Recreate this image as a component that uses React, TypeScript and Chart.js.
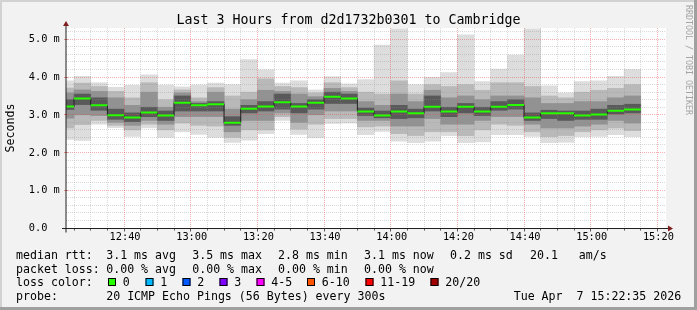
import React, { useEffect, useRef } from "react";
import { Chart, registerables } from "chart.js";

Chart.register(...registerables);

// ---------- data ----------
const rangeStart = "12:22:35";
const rangeEnd = "15:22:35";
const stepMinutes = 5;

const barEnd = [
  "12:25", "12:30", "12:35", "12:40", "12:45", "12:50", "12:55",
  "13:00", "13:05", "13:10", "13:15", "13:20", "13:25", "13:30", "13:35", "13:40", "13:45", "13:50", "13:55",
  "14:00", "14:05", "14:10", "14:15", "14:20", "14:25", "14:30", "14:35", "14:40", "14:45", "14:50", "14:55",
  "15:00", "15:05", "15:10", "15:15",
];

const pingMax = [3.90, 4.02, 3.85, 3.73, 3.78, 4.06, 3.79, 3.74, 3.79, 3.84, 3.80, 4.46, 4.19, 3.84, 3.90, 3.66, 4.01, 3.82, 3.93, 4.85, 5.28, 3.80, 3.99, 4.12, 5.12, 3.88, 4.21, 4.58, 5.28, 3.77, 3.58, 3.88, 3.90, 4.02, 4.20];
const band2Hi = [3.71, 3.84, 3.75, 3.62, 3.45, 3.85, 3.40, 3.66, 3.45, 3.72, 3.50, 3.60, 3.95, 3.75, 3.72, 3.58, 3.85, 3.72, 3.60, 3.55, 3.90, 3.55, 3.80, 3.75, 3.80, 3.65, 3.85, 3.85, 3.75, 3.50, 3.45, 3.60, 3.65, 3.70, 3.80];
const band3Hi = [3.58, 3.66, 3.62, 3.45, 3.25, 3.60, 3.20, 3.58, 3.35, 3.60, 3.15, 3.40, 3.65, 3.62, 3.55, 3.48, 3.70, 3.62, 3.35, 3.25, 3.55, 3.35, 3.65, 3.45, 3.50, 3.40, 3.50, 3.50, 3.45, 3.30, 3.30, 3.35, 3.35, 3.45, 3.50];
const coreHi = [3.40, 3.55, 3.45, 3.15, 3.05, 3.20, 3.10, 3.50, 3.30, 3.35, 2.95, 3.25, 3.35, 3.55, 3.30, 3.40, 3.60, 3.55, 3.18, 3.10, 3.25, 3.15, 3.50, 3.20, 3.30, 3.20, 3.35, 3.40, 3.05, 3.12, 3.10, 3.10, 3.15, 3.25, 3.28];
const medianRtt = [3.22, 3.43, 3.25, 2.99, 2.93, 3.06, 2.98, 3.32, 3.25, 3.28, 2.79, 3.16, 3.22, 3.33, 3.22, 3.32, 3.48, 3.43, 3.09, 2.98, 3.09, 3.04, 3.21, 3.09, 3.21, 3.09, 3.21, 3.26, 2.93, 3.04, 3.04, 2.98, 3.01, 3.11, 3.14];
const coreLo = [3.14, 3.27, 3.12, 2.88, 2.82, 2.95, 2.85, 3.10, 3.10, 3.10, 2.72, 3.05, 3.10, 3.15, 3.05, 3.15, 3.30, 3.30, 2.98, 2.92, 2.90, 2.92, 3.10, 2.95, 3.05, 2.98, 3.12, 3.15, 2.85, 2.90, 2.85, 2.88, 2.88, 3.02, 3.05];
const band3Lo = [2.91, 3.00, 2.98, 2.80, 2.72, 2.85, 2.75, 2.95, 2.95, 2.95, 2.55, 2.85, 2.85, 3.05, 2.80, 3.00, 3.10, 3.10, 2.85, 2.85, 2.70, 2.70, 2.90, 2.75, 2.75, 2.85, 2.95, 2.95, 2.75, 2.65, 2.65, 2.70, 2.75, 2.85, 2.78];
const band2Lo = [2.65, 2.74, 2.85, 2.72, 2.60, 2.75, 2.60, 2.78, 2.72, 2.70, 2.40, 2.60, 2.60, 2.95, 2.62, 2.75, 2.90, 2.90, 2.68, 2.70, 2.50, 2.45, 2.55, 2.55, 2.45, 2.60, 2.75, 2.72, 2.55, 2.42, 2.45, 2.55, 2.60, 2.65, 2.58];
const pingMin = [2.35, 2.32, 2.75, 2.66, 2.43, 2.65, 2.40, 2.55, 2.48, 2.40, 2.27, 2.33, 2.50, 2.85, 2.48, 2.39, 2.77, 2.78, 2.47, 2.56, 2.30, 2.26, 2.30, 2.45, 2.26, 2.28, 2.47, 2.47, 2.43, 2.26, 2.27, 2.42, 2.43, 2.47, 2.42];

const xTickLabels = ["12:40", "13:00", "13:20", "13:40", "14:00", "14:20", "14:40", "15:00", "15:20"];
const yTicks = [0, 1, 2, 3, 4, 5];
const yTickLabels = ["0.0  ", "1.0 m", "2.0 m", "3.0 m", "4.0 m", "5.0 m"];
const yMax = 5.3;

const titleText = "Last 3 Hours from d2d1732b0301 to Cambridge";
const yAxisTitle = "Seconds";
const watermarkText = "RRDTOOL / TOBI OETIKER";
const medianHead = "median rtt:";
const medianStats = ["3.1 ms avg", "3.5 ms max", "2.8 ms min", "3.1 ms now", "0.2 ms sd"];
const jitterValue = "20.1";
const jitterUnit = "am/s";
const lossHead = "packet loss:";
const lossStats = ["0.00 % avg", "0.00 % max", "0.00 % min", "0.00 % now"];
const lossColorHead = "loss color:";
const lossLabels = ["0", "1", "2", "3", "4-5", "6-10", "11-19", "20/20"];
const lossColors = ["#26ff00", "#00b8ff", "#0059ff", "#7e00ff", "#ff00ff", "#ff5500", "#ff0000", "#a10000"];
const probeHead = "probe:";
const probeText = "20 ICMP Echo Pings (56 Bytes) every 300s";
const timestampText = "Tue Apr  7 15:22:35 2026";

// ---------- layout / style ----------
const W = 697;
const H = 310;
const MONO = '"DejaVu Sans Mono", monospace';
const statCols = [106.2, 192.2, 278, 364, 450];
const lossBoxX = [108, 145.5, 182.5, 219.5, 256.5, 307, 365.5, 430.5];
const rowBase = [258.5, 272.5, 286.3, 300.2];

const toMin = (s: string) => {
  const p = s.split(":").map(Number);
  return p[0] * 60 + p[1] + (p[2] || 0) / 60;
};

function crisp(v: number) {
  return Math.floor(v) + 0.5;
}

function drawGrid(chart: any) {
  const { ctx, chartArea: a, scales } = chart;
  const xs = scales.x;
  const ys = scales.y;
  const t0 = toMin(rangeStart);
  const t1 = toMin(rangeEnd);
  const minor = "rgba(143,143,143,0.34)";
  const major = "rgba(222,79,79,0.45)";
  ctx.save();
  ctx.lineWidth = 1;
  ctx.setLineDash([1, 1]);
  const drawSet = (isMajor: boolean) => {
    ctx.strokeStyle = isMajor ? major : minor;
    ctx.beginPath();
    for (let k = 1; k / 5 <= yMax + 1e-9; k++) {
      if ((k % 5 === 0) !== isMajor) continue;
      const y = crisp(ys.getPixelForValue(k / 5));
      ctx.moveTo(a.left, y);
      ctx.lineTo(a.right, y);
    }
    for (let m = Math.ceil(t0 / stepMinutes) * stepMinutes; m < t1; m += stepMinutes) {
      if ((m % 20 === 0) !== isMajor) continue;
      const x = crisp(xs.getPixelForValue(m));
      ctx.moveTo(x, a.top);
      ctx.lineTo(x, a.bottom);
    }
    ctx.stroke();
  };
  drawSet(false);
  drawSet(true);
  ctx.restore();
}

const smokePlugin = {
  id: "smokeping",
  beforeDraw(chart: any) {
    const { ctx, chartArea: a } = chart;
    ctx.save();
    ctx.fillStyle = "#f2f2f2";
    ctx.fillRect(0, 0, W, H);
    ctx.fillStyle = "#d2d2d2";
    ctx.fillRect(0, 0, W, 2);
    ctx.fillRect(0, 0, 2, H);
    ctx.fillStyle = "#a0a0a0";
    ctx.fillRect(0, H - 3, W, 3);
    ctx.fillRect(W - 3, 0, 3, H);
    ctx.fillStyle = "#ffffff";
    ctx.fillRect(a.left, a.top, a.right - a.left, a.bottom - a.top);
    ctx.restore();
  },
  beforeDatasetsDraw(chart: any) {
    chart.$gridDone = false;
  },
  beforeDatasetDraw(chart: any, args: any) {
    if (!chart.$gridDone && args.meta.type === "line") {
      drawGrid(chart);
      chart.$gridDone = true;
    }
  },
  afterDraw(chart: any) {
    const { ctx, chartArea: a, scales } = chart;
    const xs = scales.x;
    const ys = scales.y;
    const t0 = toMin(rangeStart);
    const t1 = toMin(rangeEnd);
    const y0 = crisp(ys.getPixelForValue(0));
    const x0 = a.left;
    ctx.save();

    // ticks on x axis
    ctx.lineWidth = 1;
    ctx.strokeStyle = "#555";
    ctx.beginPath();
    for (let m = Math.ceil(t0 / stepMinutes) * stepMinutes; m < t1; m += stepMinutes) {
      const x = crisp(xs.getPixelForValue(m));
      ctx.moveTo(x, y0);
      ctx.lineTo(x, y0 + (m % 20 === 0 ? 3 : 2));
    }
    ctx.stroke();
    // ticks on y axis
    ctx.strokeStyle = "rgba(222,79,79,0.6)";
    ctx.beginPath();
    yTicks.forEach((v) => {
      if (v === 0) return;
      const y = crisp(ys.getPixelForValue(v));
      ctx.moveTo(x0 - 2, y);
      ctx.lineTo(x0 + 2, y);
    });
    ctx.stroke();

    // axes
    ctx.strokeStyle = "#1f1f1f";
    ctx.beginPath();
    ctx.moveTo(x0 - 4, y0);
    ctx.lineTo(a.right + 4, y0);
    ctx.stroke();
    ctx.beginPath();
    ctx.moveTo(x0, y0 + 4);
    ctx.lineTo(x0, a.top - 4);
    ctx.stroke();

    // arrows
    ctx.fillStyle = "#801f1f";
    ctx.beginPath();
    ctx.moveTo(a.right + 2, y0 - 3);
    ctx.lineTo(a.right + 2, y0 + 3);
    ctx.lineTo(a.right + 7, y0);
    ctx.closePath();
    ctx.fill();
    ctx.beginPath();
    ctx.moveTo(x0 - 3, a.top - 2);
    ctx.lineTo(x0 + 3, a.top - 2);
    ctx.lineTo(x0, a.top - 7);
    ctx.closePath();
    ctx.fill();

    // axis labels
    ctx.fillStyle = "#000";
    ctx.font = `10.3px ${MONO}`;
    ctx.textBaseline = "middle";
    ctx.textAlign = "right";
    yTicks.forEach((v, i) => {
      ctx.fillText(yTickLabels[i], 59.8, ys.getPixelForValue(v) + 0.3);
    });
    ctx.textAlign = "center";
    xTickLabels.forEach((lab) => {
      ctx.fillText(lab, xs.getPixelForValue(toMin(lab)) + 1, 237.8);
    });

    // title
    ctx.font = `13.3px ${MONO}`;
    ctx.textBaseline = "alphabetic";
    ctx.textAlign = "center";
    ctx.fillText(titleText, W / 2, 24.3);

    // y axis title
    ctx.save();
    ctx.font = `11.6px ${MONO}`;
    ctx.translate(10.5, (a.top + a.bottom) / 2);
    ctx.rotate(-Math.PI / 2);
    ctx.textBaseline = "middle";
    ctx.fillText(yAxisTitle, 0, 0);
    ctx.restore();

    // watermark
    ctx.save();
    ctx.font = `8.3px ${MONO}`;
    ctx.fillStyle = "#a4a4a4";
    ctx.translate(688.2, 5);
    ctx.rotate(Math.PI / 2);
    ctx.textBaseline = "middle";
    ctx.textAlign = "left";
    ctx.fillText(watermarkText, 0, 0);
    ctx.restore();

    // legend
    ctx.font = `11.6px ${MONO}`;
    ctx.textAlign = "left";
    ctx.textBaseline = "alphabetic";
    ctx.fillStyle = "#000";
    ctx.fillText(medianHead, 16, rowBase[0]);
    medianStats.forEach((s, i) => ctx.fillText(s, statCols[i], rowBase[0]));
    ctx.fillText(jitterValue, 530, rowBase[0]);
    ctx.fillText(jitterUnit, 578.7, rowBase[0]);
    ctx.fillText(lossHead, 16, rowBase[1]);
    lossStats.forEach((s, i) => ctx.fillText(s, statCols[i], rowBase[1]));
    ctx.fillText(lossColorHead, 16, rowBase[2]);
    lossLabels.forEach((lab, i) => {
      const bx = lossBoxX[i];
      ctx.fillStyle = lossColors[i];
      ctx.fillRect(bx, 278, 8, 8);
      ctx.strokeStyle = "#000";
      ctx.lineWidth = 1;
      ctx.strokeRect(bx + 0.5, 278.5, 7, 7);
      ctx.fillStyle = "#000";
      ctx.fillText(lab, bx + 14.8, rowBase[2]);
    });
    ctx.fillText(probeHead, 16, rowBase[3]);
    ctx.fillText(probeText, statCols[0], rowBase[3]);
    ctx.textAlign = "right";
    ctx.fillText(timestampText, 681.2, rowBase[3]);

    ctx.restore();
  },
};

export default function App() {
  const ref = useRef<HTMLCanvasElement | null>(null);

  useEffect(() => {
    if (!ref.current) return;
    const ends = barEnd.map(toMin);
    const centers = ends.map((e) => e - stepMinutes / 2);

    const band = (lo: number[], hi: number[], color: string, order: number) => ({
      type: "bar" as const,
      data: centers.map((x, i) => ({ x, y: [lo[i], hi[i]] })),
      backgroundColor: color,
      borderWidth: 0,
      grouped: false,
      barPercentage: 1,
      categoryPercentage: 1,
      order,
      clip: 0,
    });

    const greenSegs: any[] = [];
    ends.forEach((e, i) => {
      greenSegs.push({ x: e - stepMinutes, y: medianRtt[i] });
      greenSegs.push({ x: e, y: medianRtt[i] });
      greenSegs.push({ x: e, y: null });
    });

    const chart = new Chart(ref.current, {
      type: "bar",
      data: {
        datasets: [
          {
            type: "line",
            data: greenSegs,
            borderColor: lossColors[0],
            borderWidth: 2,
            pointRadius: 0,
            spanGaps: false,
            order: 0,
            clip: 0,
          } as any,
          {
            type: "line",
            data: centers.map((x, i) => ({ x, y: medianRtt[i] })),
            borderColor: "#202020",
            borderWidth: 1,
            pointRadius: 0,
            stepped: "middle",
            order: 1,
            clip: 0,
          } as any,
          band(coreLo, coreHi, "#595959", 2) as any,
          band(band3Lo, band3Hi, "#929292", 3) as any,
          band(band2Lo, band2Hi, "#b9b9b9", 4) as any,
          band(pingMin, pingMax, "#dddddd", 5) as any,
        ],
      },
      options: {
        responsive: false,
        devicePixelRatio: 1,
        animation: false,
        events: [],
        layout: { padding: { left: 66, right: 31, top: 28, bottom: 82 } },
        plugins: { legend: { display: false }, tooltip: { enabled: false }, title: { display: false } },
        scales: {
          x: { type: "linear", min: toMin(rangeStart), max: toMin(rangeEnd), offset: false, display: false },
          y: { type: "linear", min: 0, max: yMax, display: false },
        },
      } as any,
      plugins: [smokePlugin as any],
    });
    return () => chart.destroy();
  }, []);

  return (
    <div style={{ position: "absolute", left: 0, top: 0, width: W, height: H }}>
      <canvas ref={ref} width={W} height={H} style={{ display: "block", width: W, height: H }} />
    </div>
  );
}
